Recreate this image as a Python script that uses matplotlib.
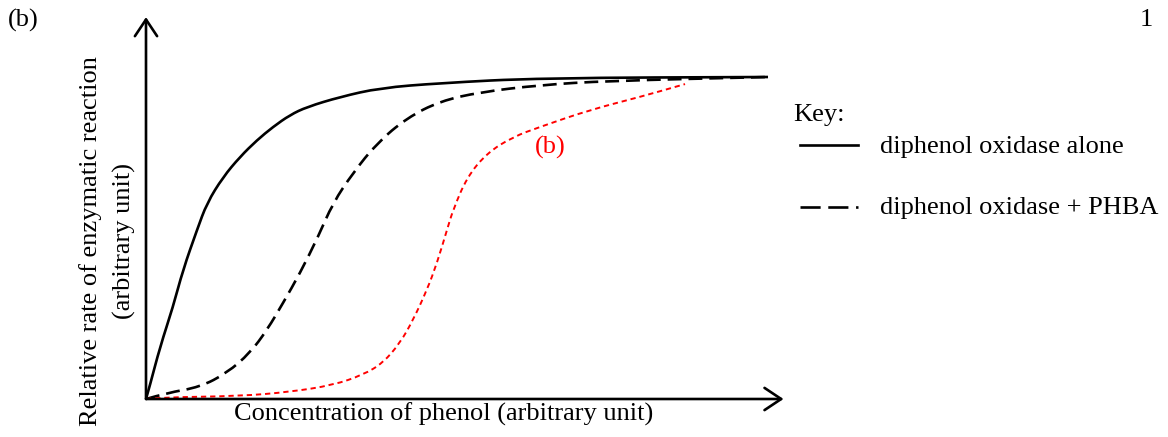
import matplotlib.pyplot as plt
from matplotlib.path import Path
from matplotlib.patches import PathPatch
import numpy as np

plt.rcParams['font.family'] = ['Liberation Serif', 'DejaVu Serif']
plt.rcParams['lines.scale_dashes'] = False

# Curve data (concentration 0..10, relative rate 0..1)
alone_x = [0, 0.064, 0.225, 0.434, 0.595, 0.820, 0.981, 1.238, 1.511, 1.785, 2.042,
           2.315, 2.588, 3.119, 3.762, 4.727, 6.334, 10.0]
alone_y = [0, 0.043, 0.161, 0.286, 0.401, 0.525, 0.609, 0.689, 0.752, 0.804, 0.845,
           0.882, 0.907, 0.938, 0.966, 0.981, 0.997, 1.0]

phba_x = [0, 0.338, 0.868, 1.302, 1.672, 1.945, 2.203, 2.476, 2.765, 3.006, 3.328,
          3.714, 4.196, 4.727, 5.370, 6.334, 7.412, 10.0]
phba_y = [0, 0.019, 0.037, 0.081, 0.143, 0.214, 0.298, 0.391, 0.503, 0.609, 0.702,
          0.795, 0.873, 0.925, 0.953, 0.975, 0.988, 1.0]

b_x = [0, 0.225, 1.511, 2.315, 3.006, 3.489, 3.810, 4.084, 4.293, 4.518, 4.678, 4.839,
       4.936, 5.161, 5.482, 5.900, 6.334, 7.138, 7.942, 8.666]
b_y = [0, 0.005, 0.009, 0.022, 0.043, 0.075, 0.112, 0.174, 0.245, 0.339, 0.422, 0.525,
       0.587, 0.689, 0.764, 0.814, 0.845, 0.898, 0.938, 0.978]


def smooth_path(xs, ys):
    # quadratic bezier through midpoints, the read points act as control points
    pts = np.column_stack([xs, ys])
    verts = [pts[0]]
    codes = [Path.MOVETO]
    for i in range(1, len(pts) - 1):
        mid = (pts[i] + pts[i + 1]) / 2
        verts += [pts[i], mid]
        codes += [Path.CURVE3, Path.CURVE3]
    verts.append(pts[-1])
    codes.append(Path.LINETO)
    return Path(verts, codes)


fig = plt.figure(figsize=(11.68, 4.37), dpi=100)
ax = fig.add_axes([146/1168, 38/437, 622/1168, 322/437])
ax.set_xlim(0, 10)
ax.set_ylim(0, 1)
ax.axis('off')

for xs, ys, col, lw, ls in [(alone_x, alone_y, 'black', 1.9, '-'),
                            (phba_x, phba_y, 'black', 1.9, (0, (10, 5))),
                            (b_x, b_y, 'red', 1.4, (0, (3.8, 2.8)))]:
    patch = PathPatch(smooth_path(xs, ys), facecolor='none', edgecolor=col, lw=lw,
                      linestyle=ls, clip_on=False, capstyle='butt')
    ax.add_patch(patch)

# axes with arrows
arrow = dict(arrowstyle='->,head_length=1.2,head_width=0.8', lw=1.9, color='black',
             shrinkA=0, shrinkB=0)
ax.annotate('', xy=(1.025, 0), xytext=(0, 0), xycoords='axes fraction',
            textcoords='axes fraction', arrowprops=arrow)
ax.annotate('', xy=(0, 1.186), xytext=(0, 0), xycoords='axes fraction',
            textcoords='axes fraction', arrowprops=arrow)

fs = 19
ax.text(0.478, -0.012, 'Concentration of phenol (arbitrary unit)', transform=ax.transAxes,
        ha='center', va='top', fontsize=fs)
ax.text(-0.062, 0.49, 'Relative rate of enzymatic reaction\n(arbitrary unit)',
        transform=ax.transAxes, rotation=90, ha='center', va='center',
        fontsize=fs, linespacing=1.65)
ax.text(0.65, 0.78, '(b)', transform=ax.transAxes, color='red', ha='center',
        va='center', fontsize=fs)

# key
fig.text(793/1168, 1 - 115/437, 'Key:', ha='left', va='center', fontsize=fs)
fig.add_artist(plt.Line2D([800/1168, 858/1168], [1 - 145/437, 1 - 145/437],
                          color='black', lw=1.9))
fig.text(880/1168, 1 - 147/437, 'diphenol oxidase alone', ha='left', va='center', fontsize=fs)
fig.add_artist(plt.Line2D([800/1168, 858/1168], [1 - 207/437, 1 - 207/437],
                          color='black', lw=1.9, dashes=(14.5, 5.5)))
fig.text(880/1168, 1 - 208/437, 'diphenol oxidase + PHBA', ha='left', va='center', fontsize=fs)

fig.text(8/1168, 1 - 20/437, '(b)', ha='left', va='center', fontsize=fs)
fig.text(1153/1168, 1 - 20/437, '1', ha='right', va='center', fontsize=fs)

fig.savefig('out.png', dpi=100)
